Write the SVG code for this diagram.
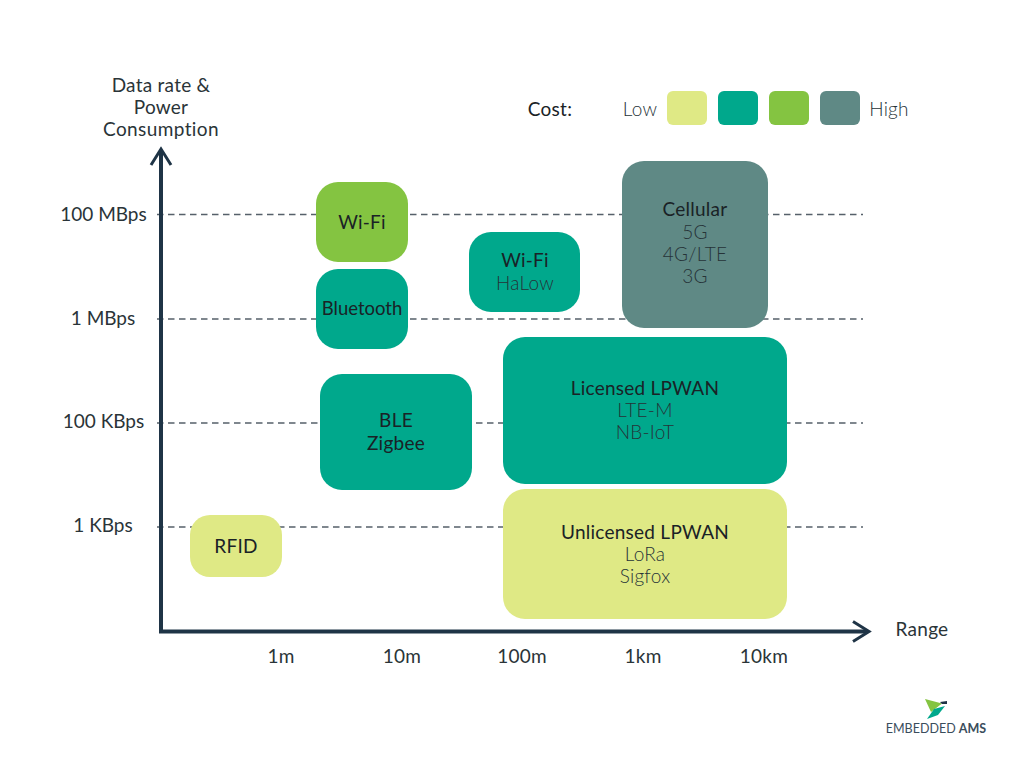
<svg xmlns="http://www.w3.org/2000/svg" width="1024" height="762" viewBox="0 0 1024 762">
<style>
text{font-family:"Lato","Open Sans","Liberation Sans",sans-serif;font-size:19px;letter-spacing:.25px;text-anchor:middle;fill:#1a2226}
.l{font-weight:300;fill:#263338}
.ax{font-weight:400;fill:#2a3438}
.grid{stroke:#56606a;stroke-width:1.3;stroke-dasharray:6.5 4.5;fill:none}
.axis{stroke:#1f3446;stroke-width:4;fill:none}
.head{stroke:#1f3446;stroke-width:3;fill:none}
.a{fill:#dfe985}.b{fill:#00a88c}.c{fill:#84c441}.d{fill:#5f8985}
</style>
<rect width="1024" height="762" fill="#ffffff"/>
<g id="connectors">
<path class="grid" d="M157 214.500H863"/>
<path class="grid" d="M157 319H863"/>
<path class="grid" d="M157 423H863"/>
<path class="grid" d="M157 527H863"/>
<path class="axis" d="M161 150V631.500H868"/>
<path class="head" d="M151 165L161 149L171 165"/>
<path class="head" d="M853 621.500L869 631.500L853 641.500"/>
</g>
<g id="axis-y"><text class="ax" x="161" y="92">Data rate &amp;</text><text class="ax" x="161" y="114">Power</text><text class="ax" x="161" y="136" style="letter-spacing:.4px">Consumption</text></g>
<g id="axis-x"><text class="ax" x="922" y="636">Range</text></g>
<g id="ticks-y"><text class="ax" x="103.500" y="220.500" style="letter-spacing:0">100 MBps</text><text class="ax" x="103" y="324.500" style="letter-spacing:0">1 MBps</text><text class="ax" x="103.500" y="427.500" style="letter-spacing:0">100 KBps</text><text class="ax" x="103" y="531.500" style="letter-spacing:0">1 KBps</text></g>
<g id="ticks-x"><text class="ax" x="281" y="662.500">1m</text><text class="ax" x="402" y="662.500">10m</text><text class="ax" x="522" y="662.500">100m</text><text class="ax" x="643" y="662.500">1km</text><text class="ax" x="764" y="662.500">10km</text></g>
<g id="legend"><text x="550" y="115.500">Cost:</text><text class="l" x="640" y="115.500">Low</text>
<rect class="a" x="667" y="91" width="40" height="34" rx="6"/><rect class="b" x="718" y="91" width="40" height="34" rx="6"/><rect class="c" x="769" y="91" width="40" height="34" rx="6"/><rect class="d" x="820" y="91" width="40" height="34" rx="6"/>
<text class="l" x="889" y="115.500">High</text></g>
<g id="wifi"><rect class="c" x="316" y="182" width="92" height="80" rx="22"/><text x="362" y="228.500">Wi-Fi</text></g>
<g id="bluetooth"><rect class="b" x="316" y="269" width="92" height="80" rx="22"/><text x="362" y="314.500" style="font-size:18.500px;letter-spacing:0">Bluetooth</text></g>
<g id="wifi-halow"><rect class="b" x="469" y="232" width="111" height="80" rx="22"/><text x="525" y="267">Wi-Fi</text><text class="l" x="525" y="289.500">HaLow</text></g>
<g id="cellular"><rect class="d" x="622" y="161" width="146" height="167" rx="22"/><text x="695" y="215.500">Cellular</text><text class="l" x="695" y="238.500">5G</text><text class="l" x="695" y="260.500">4G/LTE</text><text class="l" x="695" y="282.500">3G</text></g>
<g id="licensed"><rect class="b" x="503" y="337" width="284" height="147" rx="22"/><text x="645" y="394.500">Licensed LPWAN</text><text class="l" x="645" y="416.500">LTE-M</text><text class="l" x="645" y="438.500">NB-IoT</text></g>
<g id="ble"><rect class="b" x="320" y="374" width="152" height="116" rx="22"/><text x="396" y="427">BLE</text><text x="396" y="449.500">Zigbee</text></g>
<g id="unlicensed"><rect class="a" x="503" y="489" width="284" height="130" rx="22"/><text x="645" y="538.500">Unlicensed LPWAN</text><text class="l" x="645" y="560.500">LoRa</text><text class="l" x="645" y="582.500">Sigfox</text></g>
<g id="rfid"><rect class="a" x="190" y="515" width="92" height="62" rx="20"/><text x="236" y="552.500">RFID</text></g>
<g id="logo"><polygon points="925,699 942,703.500 931,712" fill="#84c441"/><polygon points="940,702 947,701 947,704 942,704" fill="#1f3446"/><polygon points="927,719 934,709 945,706 938,715" fill="#00a88c"/><text x="936" y="733" style="font-size:12.500px;font-weight:400;fill:#3a4d5c;letter-spacing:0">EMBEDDED <tspan style="font-weight:700">AMS</tspan></text></g>
</svg>
